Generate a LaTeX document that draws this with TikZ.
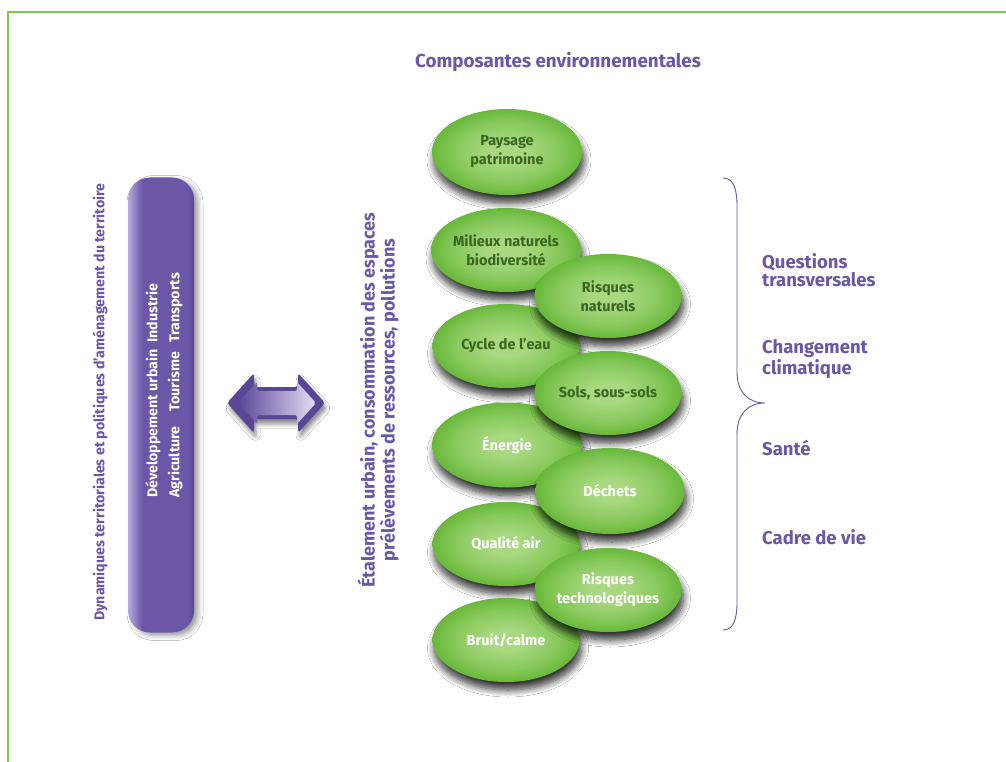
\documentclass[tikz,border=0pt]{standalone}
\usepackage{fontspec}
\setmainfont{Fira Sans}
\usetikzlibrary{shapes.geometric,shadows.blur}
\definecolor{purp}{HTML}{6B56A8}
\definecolor{purpdark}{HTML}{5A4697}
\definecolor{purplight}{HTML}{B7A9DD}
\definecolor{arrlight}{HTML}{E4DEF3}
\definecolor{gedge}{HTML}{68B83A}
\definecolor{gmid}{HTML}{86C85A}
\definecolor{gcent}{HTML}{A9D880}
\definecolor{gtext}{HTML}{3A6620}
\definecolor{framegreen}{HTML}{7CCB50}
\pgfdeclareradialshading{ellshade}{\pgfpoint{0bp}{0bp}}{color(0bp)=(gcent); color(6bp)=(gcent); color(18bp)=(gmid); color(25bp)=(gedge); color(50bp)=(gedge)}
\pgfdeclarehorizontalshading{barshade}{100bp}{color(0bp)=(purplight); color(25bp)=(purplight); color(36bp)=(purp); color(70bp)=(purp); color(75bp)=(purpdark); color(100bp)=(purpdark)}
\pgfdeclarehorizontalshading{arrshade}{100bp}{color(0bp)=(purpdark); color(25bp)=(purpdark); color(75bp)=(arrlight); color(100bp)=(arrlight)}
\begin{document}
\begin{tikzpicture}[x=1pt,y=-1pt,
  env/.style={ellipse, minimum width=147pt, minimum height=84pt, inner sep=0pt,
    shading=ellshade, align=center,
    blur shadow={shadow xshift=2pt, shadow yshift=-8pt, shadow opacity=80, shadow blur radius=7pt, shadow blur steps=10},
    font=\bfseries\fontsize{14.5}{19}\selectfont},
  darktxt/.style={text=gtext},
  lighttxt/.style={text=white},
  lbl/.style={text=purp, font=\bfseries\fontsize{18.5}{18.5}\selectfont, align=left, anchor=west, inner sep=0pt},
]
\useasboundingbox (0,0) rectangle (1006,762);
\fill[white] (0,0) rectangle (1006,762);
% frame
\draw[framegreen, line width=2pt] (8,762) -- (8,12) -- (1006,12);

% title
\node[text=purp, font=\bfseries\fontsize{18.8}{19}\selectfont] (title) at (558,62) {Composantes environnementales};

% left rotated caption
\node[rotate=90, text=purp, font=\bfseries\fontsize{14.2}{15}\selectfont, inner sep=0pt] (dyn) at (100,402)
  {Dynamiques territoriales et politiques d’aménagement du territoire};

% bar
\node[rectangle, rounded corners=22pt, minimum width=66pt, minimum height=455pt, shading=barshade,
  blur shadow={shadow xshift=4pt, shadow yshift=-3pt, shadow opacity=40, shadow blur radius=5pt}] (bar) at (161,405) {};
\node[rotate=90, anchor=west, align=left, inner sep=0pt, text=white, font=\bfseries\fontsize{14.2}{22}\selectfont] (bartext) at (164,498)
  {\makebox[155pt][l]{Développement urbain}Industrie\\\makebox[86pt][l]{Agriculture}\makebox[69pt][l]{Tourisme}Transports};

% double arrow
\fill[purpdark, rounded corners=3pt, blur shadow={shadow xshift=2pt, shadow yshift=-5pt, shadow opacity=45, shadow blur radius=4pt}]
  (227,403) -- (254,373) -- (254,387) -- (298,387) -- (298,373) -- (325,403) -- (298,433) -- (298,419) -- (254,419) -- (254,433) -- cycle;
\shade[shading=arrshade, rounded corners=2pt]
  (238,403) -- (257,382) -- (257,391) -- (297,391) -- (297,382) -- (316,403) -- (297,424) -- (297,415) -- (257,415) -- (257,424) -- cycle;

% middle rotated text
\node[rotate=90, text=purp, align=center, inner sep=0pt, font=\bfseries\fontsize{18}{19}\selectfont] (etal) at (378,400)
  {Étalement urbain, consommation des espaces\\prélèvements de ressources, pollutions};

% ellipses: left column
\node[env, darktxt, minimum width=150pt, minimum height=86pt] (pay) at (507,152) {Paysage\\patrimoine};
\node[env, darktxt] (mil) at (506,250) {Milieux naturels\\biodiversité};
\node[env, darktxt] (cyc) at (506,346) {Cycle de l’eau};
\node[env, lighttxt, minimum width=150pt, minimum height=85pt] (ene) at (507,445) {Énergie};
\node[env, lighttxt] (qual) at (506,544) {Qualité air};
\node[env, lighttxt] (bruit) at (506,640) {Bruit/calme};
% right column
\node[env, darktxt] (rnat) at (608,296) {Risques\\naturels};
\node[env, darktxt] (sols) at (608,393) {Sols, sous-sols};
\node[env, lighttxt, minimum width=149pt, minimum height=86pt] (dec) at (610,491) {Déchets};
\node[env, lighttxt] (rtec) at (608,590) {Risques\\technologiques};

% brace
\coordinate (btop) at (723,178);
\coordinate (btip) at (765,403);
\coordinate (bbot) at (723,630);
\draw[purp, line width=0.9pt] (btop) .. controls (734,178) and (737,190) .. (737,206) -- (737,372)
  .. controls (737,392) and (748,403) .. (btip)
  .. controls (748,403) and (737,414) .. (737,434) -- (737,602)
  .. controls (737,618) and (734,630) .. (bbot);

% right labels
\node[lbl] (qt) at (762,270) {Questions\\transversales};
\node[lbl] (cc) at (762,359) {Changement\\climatique};
\node[lbl] (sante) at (762,448) {Santé};
\node[lbl] (cadre) at (762,537) {Cadre de vie};
\end{tikzpicture}
\end{document}
